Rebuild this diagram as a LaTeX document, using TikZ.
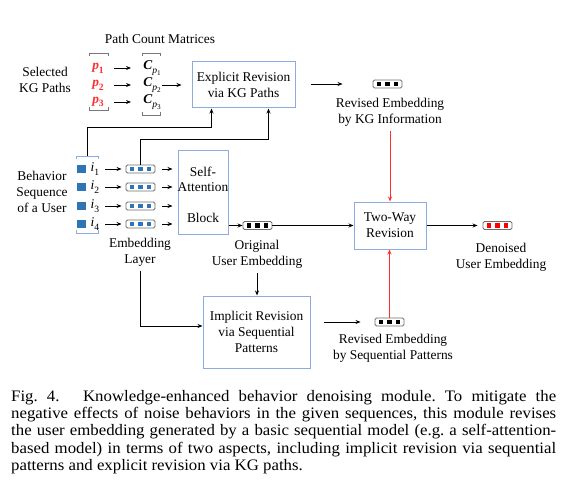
\documentclass[tikz,border=0pt]{standalone}
\usepackage{fontspec}
\setmainfont{Liberation Serif}
\newfontfamily\capfont[FakeStretch=1.05]{Liberation Serif}
\usetikzlibrary{arrows.meta,calc}
\definecolor{boxblue}{RGB}{143,170,220}
\definecolor{itblue}{RGB}{46,117,182}
\definecolor{pred}{RGB}{255,45,45}
\definecolor{embgray}{RGB}{110,110,110}
\definecolor{brgray}{RGB}{120,120,120}
\newcommand\embvec[3]{%
  \node[embbox] (#1) at (#2) {};
  \foreach \dx in {-8.3,0,8.3}{\fill[#3] ($(#1)+(\dx,0)$) +(-2.2,-2.1) rectangle +(2.2,2.1);}
}
\newcommand\sbs[1]{\raisebox{-0.28em}{\fontsize{9.6}{10}\selectfont #1}}
\newcommand\ssbs[1]{\raisebox{-0.2em}{\fontsize{7.2}{8}\selectfont #1}}
\begin{document}
\begin{tikzpicture}[x=1pt,y=-1pt,font=\fontsize{13.4}{16}\selectfont,
  box/.style={draw=boxblue,line width=1pt,align=center,inner sep=0pt},
  lbl/.style={align=center,inner sep=0pt},
  arr/.style={-{Stealth[length=5pt,width=4pt]},line width=0.9pt},
  redarr/.style={arr,draw=pred,-{Stealth[length=5pt,width=4pt,color=pred]}},
  embbox/.style={draw=embgray,rounded corners=1.5pt,minimum width=29pt,minimum height=8pt,inner sep=0pt,line width=0.9pt},
  brk/.style={draw=brgray,line width=0.8pt},
  bbrk/.style={draw=boxblue,line width=0.8pt},
  bsq/.style={fill=itblue,minimum width=8.5pt,minimum height=8.5pt,inner sep=0pt}]
\useasboundingbox (0,0) rectangle (561,497);
% top part
\node[lbl] (pcm) at (160,39) {Path Count Matrices};
\node[lbl] (skg) at (45,80) {Selected\\KG Paths};
\foreach \k/\y in {1/68,2/85,3/102}{
  \node[lbl,text=pred] (p\k) at (98,\y) {\textit{\textbf{p}}\sbs{\textbf{\k}}};
  \node[lbl] (c\k) at (152,\y) {\textbf{\textit{C}}\sbs{\textit{p}\ssbs{\k}}};
  \draw[arr,shorten <=10pt,shorten >=12pt] (p\k.east) -- (p\k.east -| c\k.west);
}
\draw[brk] (89,56) -- (89,53) -- (108,53) -- (108,56);
\draw[brk] (89,107) -- (89,110) -- (108,110) -- (108,107);
\draw[brk] (142,56) -- (142,53) -- (160,53) -- (160,56);
\draw[brk] (142,112) -- (142,115) -- (160,115) -- (160,112);
\node[box,minimum width=103pt,minimum height=46pt] (exp) at (243.5,85) {Explicit Revision\\via KG Paths};
\draw[arr,shorten <=1pt,shorten >=10pt] (c2.east) -- (c2.east -| exp.west);
\embvec{kge}{387.5,84}{black}
\node[lbl] (kgt) at (390,112.5) {Revised Embedding\\by KG Information};
\draw[arr,shorten <=15pt,shorten >=30pt] (exp.east |- kge) -- (kge.west);
% two-way
\node[box,minimum width=72pt,minimum height=47pt] (tw) at (390,225.5) {Two-Way\\Revision};
\draw[redarr,shorten <=4pt] (kgt.south) -- (tw.north);
\embvec{de}{497.5,225.5}{red}
\draw[arr,shorten >=5pt] (tw.east) -- (de.west);
\node[lbl] (dt) at (501,257) {Denoised\\User Embedding};
% behaviour sequence
\node[lbl] (bs) at (42,192) {Behavior\\Sequence\\of a User};
\node[box,minimum width=50pt,minimum height=84pt] (sab) at (203,192) {};
\node[lbl] (sa1) at (203,172) {Self-};
\node[lbl] (sa2) at (203,187.5) {Attention};
\node[lbl] (sa3) at (203,218) {Block};
\foreach \k/\y in {1/169,2/187,3/206,4/224}{
  \node[bsq] (sq\k) at (81.5,\y) {};
  \node[lbl] (i\k) at (95,\y) {\textit{i}\sbs{\k}};
  \embvec{e\k}{140.5,\y}{itblue}
  \draw[arr,shorten <=6pt,shorten >=4pt] (i\k.east |- e\k) -- (e\k.west);
  \draw[arr,shorten <=7pt,shorten >=5pt] (e\k.east) -- (e\k.east -| sab.west);
}
\draw[bbrk] (76,159) -- (76,156) -- (98,156) -- (98,159);
\draw[bbrk] (76,230) -- (76,233) -- (98,233) -- (98,230);
\coordinate (bt) at (87,156);
\coordinate (x1) at ($(exp.south west)+(20,0)$);
\coordinate (x2) at ($(exp.south east)+(-27,0)$);
\draw[arr] (bt) -- ++(0,-29) -| (x1);
\draw[arr] (e1.north) -- ++(0,-25) -| (x2);
% original embedding
\embvec{oe}{257.5,225.5}{black}
\draw[arr] (sab.east |- oe) -- (oe.west);
\draw[arr] (oe.east) -- (tw.west);
\node[lbl] (ot) at (257,254.5) {Original\\User Embedding};
\node[lbl] (el) at (140,252.5) {Embedding\\Layer};
% implicit
\node[box,minimum width=107pt,minimum height=72pt] (imp) at (256.5,332) {Implicit Revision\\via Sequential\\Patterns};
\draw[arr,shorten <=4pt] (ot.south) -- (ot.south |- imp.north);
\draw[arr,shorten <=4pt] (el.south) |- ($(imp.west)+(0,-6)$);
\embvec{se}{389.5,322}{black}
\draw[arr,shorten <=13pt,shorten >=14pt] (imp.east |- se) -- (se.west);
\draw[redarr] (se.north) -- (se.north |- tw.south);
\node[lbl] (st) at (393,348.5) {Revised Embedding\\by Sequential Patterns};
% caption
\node[anchor=north west,inner sep=0pt,align=left,font=\capfont\fontsize{16}{17.3}\selectfont\frenchspacing] (cap) at (11,390) {%
\makebox[545pt][s]{Fig. 4.\hspace{0.9em} Knowledge-enhanced behavior denoising module. To mitigate the}\\
\makebox[545pt][s]{negative effects of noise behaviors in the given sequences, this module revises}\\
\makebox[545pt][s]{the user embedding generated by a basic sequential model (e.g. a self-attention-}\\
\makebox[545pt][s]{based model) in terms of two aspects, including implicit revision via sequential}\\
patterns and explicit revision via KG paths.};
\end{tikzpicture}
\end{document}
